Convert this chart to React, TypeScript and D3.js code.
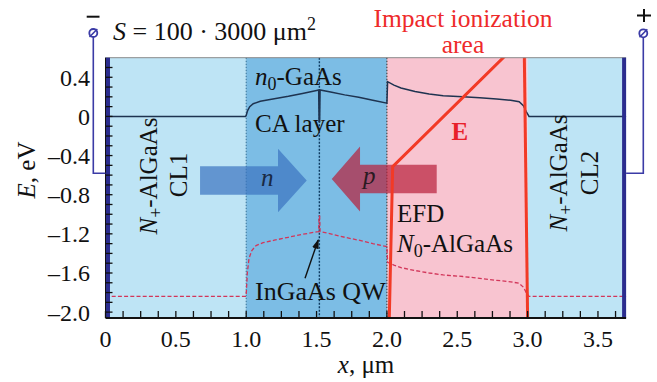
import React from "react";
import * as d3 from "d3";

// ---------- data ----------
const layerBounds = [0, 1.0, 2.0, 3.0, 3.7];
const layerKinds = ["cladding", "active", "efd", "cladding"];
const interfaceX = [1.0, 2.0];
const qwX = 1.52;

const xTickLabels = [0, 0.5, 1.0, 1.5, 2.0, 2.5, 3.0, 3.5];
const yTickLabels = [0.4, 0, -0.4, -0.8, -1.2, -1.6, -2.0];

// conduction band (x in um, E in eV)
const cbX = [0, 0.995, 1.0, 1.01, 1.025, 1.05, 1.1, 1.2, 1.3, 1.4, 1.5, 1.515, 1.518, 1.522, 1.525, 1.6, 1.7, 1.8, 1.9, 2.0, 2.005, 2.05, 2.1, 2.2, 2.3, 2.4, 2.54, 2.66, 2.78, 2.88, 2.94, 2.97, 2.99, 3.01, 3.7];
const cbE = [0, 0, 0.01, 0.06, 0.1, 0.13, 0.155, 0.18, 0.205, 0.235, 0.265, 0.27, -0.053, -0.053, 0.27, 0.25, 0.22, 0.195, 0.165, 0.135, 0.355, 0.32, 0.29, 0.255, 0.228, 0.212, 0.2, 0.19, 0.179, 0.165, 0.15, 0.11, 0.05, 0.0, 0];

// valence band
const vbX = [0, 0.995, 1.0, 1.008, 1.02, 1.04, 1.07, 1.12, 1.2, 1.3, 1.4, 1.5, 1.515, 1.518, 1.522, 1.525, 1.6, 1.7, 1.8, 1.9, 2.0, 2.005, 2.05, 2.1, 2.2, 2.3, 2.4, 2.54, 2.66, 2.78, 2.88, 2.94, 2.97, 2.99, 3.01, 3.7];
const vbE = [-1.84, -1.84, -1.82, -1.6, -1.45, -1.37, -1.32, -1.29, -1.265, -1.235, -1.205, -1.18, -1.177, -1.02, -1.02, -1.177, -1.2, -1.235, -1.265, -1.3, -1.33, -1.49, -1.52, -1.545, -1.575, -1.6, -1.62, -1.636, -1.655, -1.675, -1.69, -1.705, -1.745, -1.8, -1.84, -1.84];

// electric field profile (arbitrary units drawn on the E axis)
const fieldX = [2.017, 2.041, 2.975, 3.0];
const fieldE = [-2.06, -0.513, 0.81, -2.06];

// carrier-flow arrows: [tail x, head base x, tip x, center E, body half, head half]
const nArrow = [0.672, 1.226, 1.43, -0.655, 0.145, 0.325];
const pArrow = [2.354, 1.809, 1.608, -0.64, 0.145, 0.332];

// QW pointer [x0, E0, x1, E1]
const qwPointer = [1.418, -1.653, 1.512, -1.262];

// ---------- layout ----------
const W = 657;
const H = 382;
const X0 = 105.5;
const X1 = 626.1;
const Y0 = 318;
const Y1 = 57.7;

const FONT = "'Liberation Serif', 'Times New Roman', serif";

export default function App() {
  const x = d3.scaleLinear().domain([0, 3.7]).range([X0, X1]);
  const y = d3.scaleLinear().domain([-2.06, 0.6]).range([Y0, Y1]);

  const line = d3
    .line<[number, number]>()
    .x((d) => x(d[0]))
    .y((d) => y(d[1]));

  const cb = line(cbX.map((v, i) => [v, cbE[i]] as [number, number])) || "";
  const vb = line(vbX.map((v, i) => [v, vbE[i]] as [number, number])) || "";
  const fieldA = line([
    [fieldX[0], fieldE[0]],
    [fieldX[1], fieldE[1]],
    [fieldX[2], fieldE[2]],
  ]) || "";
  const fieldB = line([
    [fieldX[2], fieldE[2]],
    [fieldX[3], fieldE[3]],
  ]) || "";

  const kindFill: Record<string, string> = {
    cladding: "#bee4f5",
    active: "#7cbde5",
    efd: "#f8c4d0",
  };

  const arrowPath = (a: number[]) => {
    const [tail, base, tip, c, bh, hh] = a;
    const pts: [number, number][] = [
      [tail, c + bh],
      [base, c + bh],
      [base, c + hh],
      [tip, c],
      [base, c - hh],
      [base, c - bh],
      [tail, c - bh],
    ];
    return (line(pts) || "") + "Z";
  };

  const yMinor = d3.range(-20, 6).map((k) => k / 10);
  const xMinor = d3.range(0, 30).map((k) => k * 0.125).filter((v) => v <= 3.7);

  const fmtY = (v: number) => (v === 0 ? "0" : (v < 0 ? "\u2013" : "") + Math.abs(v).toFixed(1));
  const fmtX = (v: number) => (v === 0 ? "0" : v.toFixed(1));

  const wire = "#3b3ba6";

  return (
    <svg
      width={W}
      height={H}
      style={{ position: "absolute", left: 0, top: 0, background: "#fff" }}
      fontFamily={FONT}
    >
      <defs>
        <clipPath id="plot">
          <rect x={X0} y={Y1} width={X1 - X0} height={Y0 - Y1} />
        </clipPath>
        <marker id="ah" viewBox="0 0 10 10" refX="9" refY="5" markerWidth="7" markerHeight="7" orient="auto">
          <path d="M0,1.5 L10,5 L0,8.5 Z" fill="#111" />
        </marker>
      </defs>

      {/* layers */}
      {layerKinds.map((k, i) => (
        <rect
          key={i}
          x={x(layerBounds[i])}
          y={Y1}
          width={x(layerBounds[i + 1]) - x(layerBounds[i])}
          height={Y0 - Y1}
          fill={kindFill[k]}
        />
      ))}

      {/* interfaces */}
      {interfaceX.map((v, i) => (
        <line
          key={i}
          x1={x(v)}
          x2={x(v)}
          y1={Y1}
          y2={Y0}
          stroke={i === 0 ? "#2f6f94" : "#2a2a2a"}
          strokeWidth={1}
          strokeDasharray="1.5,1.5"
        />
      ))}
      <line x1={x(qwX)} x2={x(qwX)} y1={Y1} y2={Y0} stroke="#0d3a60" strokeWidth={1.4} strokeDasharray="2,1.5" />

      {/* bands */}
      <path d={cb} fill="none" stroke="#1e3350" strokeWidth={1.5} />
      <path d={vb} fill="none" stroke="#d2365a" strokeWidth={1.3} strokeDasharray="4,2.2" />

      {/* carrier arrows */}
      <path d={arrowPath(nArrow)} fill="#3a73c0" fillOpacity={0.7} />
      <path d={arrowPath(pArrow)} fill="#b8203a" fillOpacity={0.7} />

      {/* field */}
      <g clipPath="url(#plot)">
        <path d={fieldA} fill="none" stroke="#f23a26" strokeWidth={3} />
        <path d={fieldB} fill="none" stroke="#f23a26" strokeWidth={3} />
      </g>

      {/* top border */}
      <line x1={X0} x2={X1} y1={Y1} y2={Y1} stroke="#8a8a8a" strokeWidth={1} />

      {/* left / right contacts */}
      <rect x={X0} y={Y1} width={4.5} height={Y0 - Y1} fill="#2b2d8e" />
      <rect x={X1 - 4} y={Y1} width={4} height={Y0 - Y1} fill="#2b2d8e" />
      <line x1={X0} x2={X0} y1={Y1} y2={Y0} stroke="#111" strokeWidth={1} />

      {/* y ticks */}
      {yMinor.map((v, i) => (
        <line key={i} x1={X0} x2={X0 + 7} y1={y(v)} y2={y(v)} stroke="#111" strokeWidth={1.3} />
      ))}
      {yTickLabels.map((v, i) => (
        <text key={i} x={90} y={y(v) + 8.5} textAnchor="end" fontSize={24} fill="#111">
          {fmtY(v)}
        </text>
      ))}

      {/* x axis */}
      {xMinor.map((v, i) => (
        <line key={i} x1={x(v)} x2={x(v)} y1={Y0} y2={Y0 - 7} stroke="#111" strokeWidth={1.3} />
      ))}
      <line x1={X0} x2={X1} y1={Y0} y2={Y0} stroke="#111" strokeWidth={2} />
      {xTickLabels.map((v, i) => (
        <text key={i} x={x(v)} y={346.5} textAnchor="middle" fontSize={24} fill="#111">
          {fmtX(v)}
        </text>
      ))}

      {/* axis titles */}
      <text x={366} y={373} textAnchor="middle" fontSize={25} fill="#111">
        <tspan fontStyle="italic">x</tspan>, μm
      </text>
      <text transform="translate(35,170) rotate(-90)" textAnchor="middle" fontSize={25} fill="#111">
        <tspan fontStyle="italic">E</tspan>, eV
      </text>

      {/* wires and terminals */}
      <path d={`M93.3,37.3 V173.3 H${X0}`} fill="none" stroke={wire} strokeWidth={1.6} />
      <circle cx={93.3} cy={33} r={4} fill="#fff" stroke={wire} strokeWidth={1.8} />
      <line x1={89.5} y1={37} x2={97.3} y2={29} stroke={wire} strokeWidth={1.6} />
      <line x1={86.7} x2={99.5} y1={16.7} y2={16.7} stroke="#111" strokeWidth={2} />

      <path d={`M643.3,37.6 V173.3 H${X1}`} fill="none" stroke={wire} strokeWidth={1.6} />
      <circle cx={643.3} cy={33.3} r={4} fill="#fff" stroke={wire} strokeWidth={1.8} />
      <line x1={639.5} y1={37.3} x2={647.3} y2={29.3} stroke={wire} strokeWidth={1.6} />
      <line x1={637} x2={651} y1={15.5} y2={15.5} stroke="#111" strokeWidth={2} />
      <line x1={644} x2={644} y1={9} y2={22} stroke="#111" strokeWidth={2} />

      {/* annotations */}
      <text x={113} y={40} fontSize={26} fill="#111">
        <tspan fontStyle="italic">S</tspan> = 100 · 3000 μm<tspan dy={-10} fontSize={18}>2</tspan>
      </text>
      <text x={463} y={26.5} textAnchor="middle" fontSize={25.5} fill="#ee2a2a">
        <tspan x={463}>Impact ionization</tspan>
        <tspan x={463} dy={26.5}>area</tspan>
      </text>

      <text x={255} y={85} fontSize={25} fill="#111">
        <tspan fontStyle="italic">n</tspan>
        <tspan dy={5} fontSize={18}>0</tspan>
        <tspan dy={-5}>-GaAs</tspan>
      </text>
      <text x={255} y={131.7} fontSize={25} fill="#111">CA layer</text>

      <text transform="translate(157,176) rotate(-90)" textAnchor="middle" fontSize={25} fill="#111">
        <tspan fontStyle="italic">N</tspan>
        <tspan dy={5} fontSize={18}>+</tspan>
        <tspan dy={-5}>-AlGaAs</tspan>
      </text>
      <text transform="translate(187,175) rotate(-90)" textAnchor="middle" fontSize={25} fill="#111">CL1</text>

      <text transform="translate(567,173) rotate(-90)" textAnchor="middle" fontSize={25} fill="#111">
        <tspan fontStyle="italic">N</tspan>
        <tspan dy={5} fontSize={18}>+</tspan>
        <tspan dy={-5}>-AlGaAs</tspan>
      </text>
      <text transform="translate(598,173) rotate(-90)" textAnchor="middle" fontSize={25} fill="#111">CL2</text>

      <text x={451.5} y={140} fontSize={25} fontWeight="bold" fill="#e8202a">E</text>

      <text x={397} y={221.7} fontSize={25} fill="#111">EFD</text>
      <text x={397} y={251.7} fontSize={25} fill="#111">
        <tspan fontStyle="italic">N</tspan>
        <tspan dy={5} fontSize={18}>0</tspan>
        <tspan dy={-5}>-AlGaAs</tspan>
      </text>

      <text x={261} y={186} fontSize={25} fontStyle="italic" fill="#1a2a44">n</text>
      <text x={363} y={184} fontSize={25} fontStyle="italic" fill="#2a1a22">p</text>

      <text x={255} y={300} fontSize={26} fill="#111">InGaAs QW</text>
      <line
        x1={x(qwPointer[0])}
        y1={y(qwPointer[1])}
        x2={x(qwPointer[2])}
        y2={y(qwPointer[3])}
        stroke="#111"
        strokeWidth={1.4}
        markerEnd="url(#ah)"
      />
    </svg>
  );
}
